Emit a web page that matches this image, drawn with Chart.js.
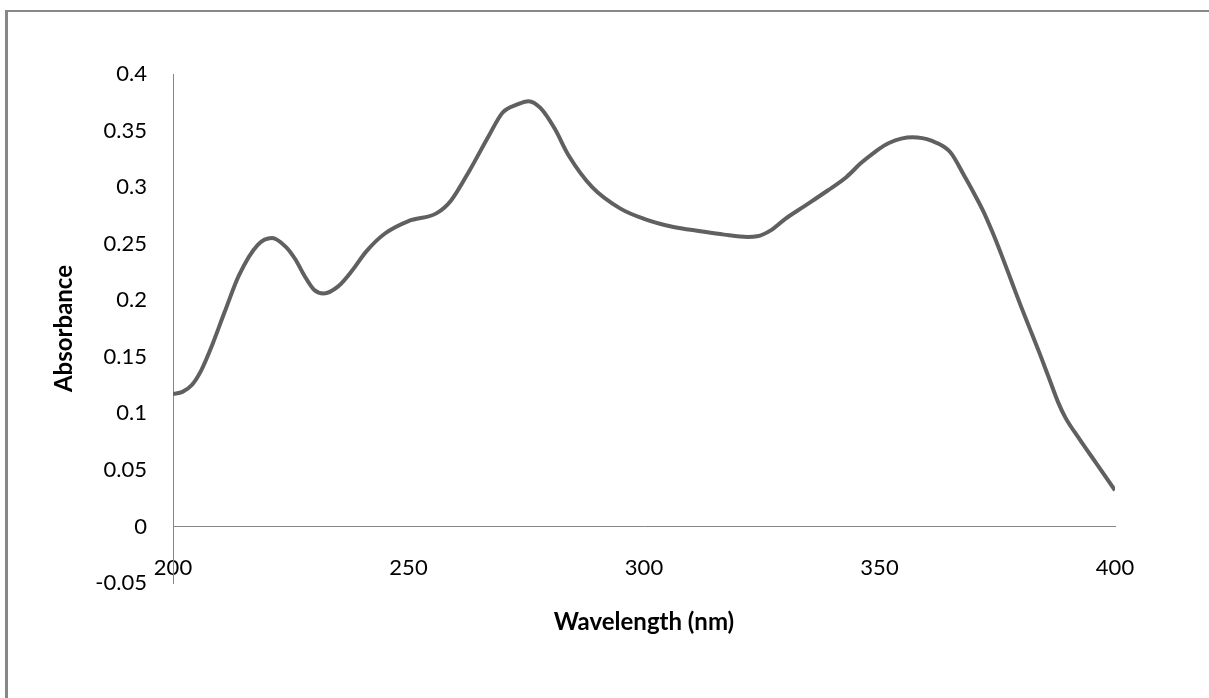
<!DOCTYPE html>
<html>
<head>
<meta charset="utf-8">
<script src="https://cdn.jsdelivr.net/npm/chart.js@4/dist/chart.umd.min.js"></script>
<style>
  html, body { margin: 0; padding: 0; background: #fff; overflow: hidden; }
  #wrap { position: relative; width: 1209px; height: 698px; }
  .fl { position: absolute; background: #878787; pointer-events: none; }
  #ftop { left: 5px; top: 10px; width: 1204px; height: 2px; }
  #fleft { left: 5px; top: 10px; width: 3px; height: 688px; }
  canvas { position: absolute; left: 0; top: 0; }
</style>
</head>
<body>
<div id="wrap">
  <canvas id="c" width="1209" height="698"></canvas>
  <div class="fl" id="ftop"></div>
  <div class="fl" id="fleft"></div>
</div>
<script>
// Wavelength (nm)
const wavelengths = [200, 202, 204, 206, 208, 211, 214, 218, 221, 224, 226, 228, 230, 232, 235, 238, 241, 245, 250, 256, 259,
  263, 267, 270, 273, 275.5, 278, 281, 284, 289, 295, 300, 306, 312, 317, 322, 324, 327, 330, 334, 339, 343,
  346, 349, 352, 357, 361, 365, 368, 370, 372, 374, 376, 378, 380, 382, 384, 386, 388, 389.5, 392.5, 396, 400];
// Absorbance
const absorbance = [0.117, 0.119, 0.125, 0.138, 0.157, 0.190, 0.222, 0.249, 0.255, 0.247, 0.236, 0.221, 0.209, 0.206, 0.212, 0.226, 0.243, 0.259, 0.270, 0.277, 0.288,
  0.315, 0.345, 0.366, 0.373, 0.376, 0.370, 0.352, 0.328, 0.300, 0.281, 0.272, 0.265, 0.261, 0.258, 0.256, 0.2565, 0.262, 0.272, 0.283, 0.297, 0.309,
  0.321, 0.331, 0.339, 0.344, 0.341, 0.331, 0.310, 0.295, 0.279, 0.260, 0.239, 0.217, 0.195, 0.174, 0.153, 0.131, 0.109, 0.096, 0.077, 0.056, 0.032];
const xTitle = 'Wavelength (nm)';
const yTitle = 'Absorbance';
const xRange = [200, 400, 50];
const yRange = [-0.05, 0.4, 0.05];

const axisColor = '#868686';
const tickFont = { family: 'Lato', size: 22 };
const titleFont = { family: 'Lato', size: 24, weight: 'bold' };

new Chart(document.getElementById('c'), {
  type: 'line',
  data: {
    datasets: [{
      data: wavelengths.map((w, i) => ({ x: w, y: absorbance[i] })),
      borderColor: '#606060',
      borderWidth: 4,
      pointRadius: 0,
      cubicInterpolationMode: 'monotone',
      fill: false
    }]
  },
  options: {
    responsive: false,
    animation: false,
    events: [],
    layout: { padding: { left: 50, top: 74, right: 94, bottom: 115 } },
    plugins: { legend: { display: false }, tooltip: { enabled: false } },
    scales: {
      x: {
        type: 'linear',
        position: { y: 0 },
        min: xRange[0], max: xRange[1],
        grid: { display: false, drawTicks: false },
        border: { display: true, color: axisColor, width: 1 },
        ticks: { stepSize: xRange[2], color: '#000', font: tickFont, padding: 28, maxRotation: 0 },
        title: { display: true, text: xTitle, color: '#000', font: titleFont, padding: 0 },
        afterFit: s => { s.height = 110; }
      },
      y: {
        type: 'linear',
        position: 'left',
        min: yRange[0], max: yRange[1],
        grid: { display: false, drawTicks: false },
        border: { display: true, color: axisColor, width: 1 },
        ticks: { stepSize: yRange[2], color: '#000', font: tickFont, padding: 26,
                 callback: v => String(Math.round(v * 100) / 100) },
        title: { display: true, text: yTitle, color: '#000', font: titleFont, padding: 0 },
        afterFit: s => { s.width = 123; }
      }
    }
  }
});
</script>
</body>
</html>
